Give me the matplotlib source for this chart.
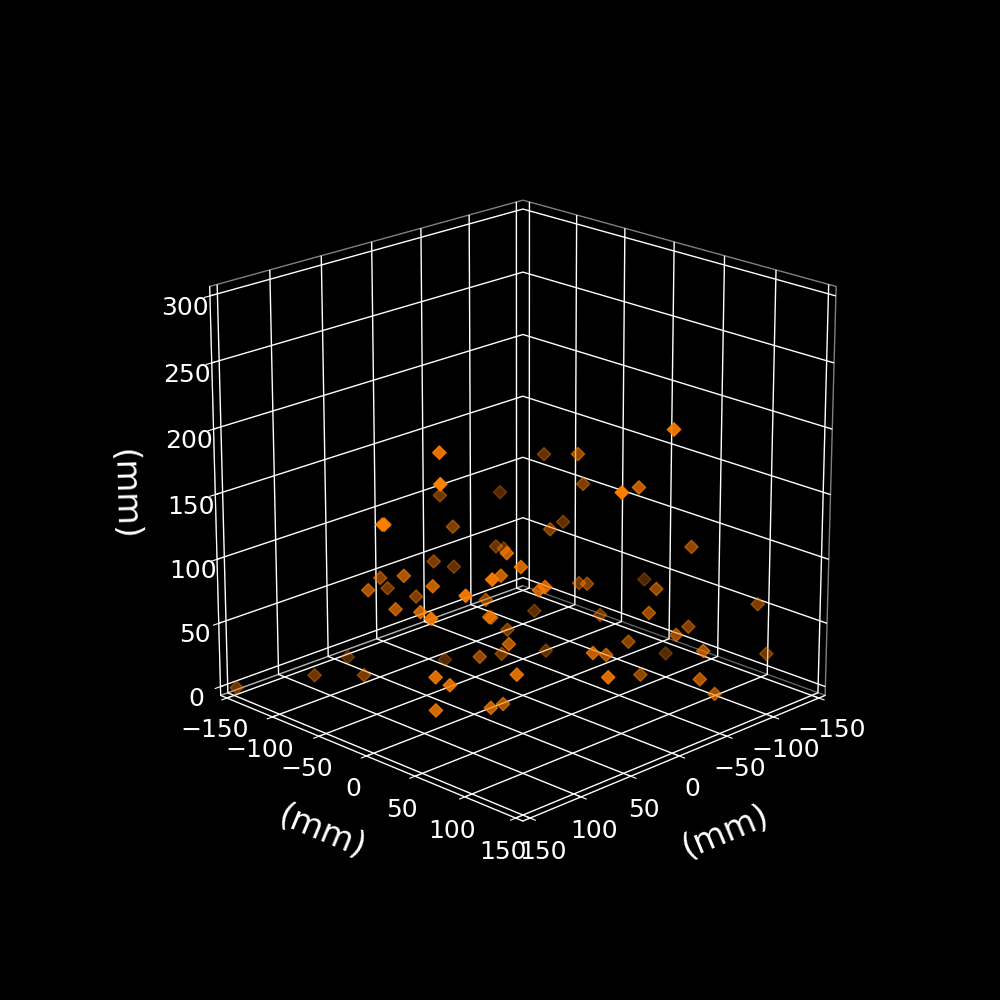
import matplotlib
matplotlib.use('Agg')
import matplotlib.pyplot as plt
import numpy as np

plt.style.use('dark_background')
plt.rcParams['grid.linewidth'] = 1.0

x_vals = [111, 140, 13, 149, 150, 26, 36, 6, -16, -48, 83, 100, 118, 60, 105, 55, 114, 121, 145, 128, 29, 115, 71, 67, 56, -30, 68, 71, 62, 108, 92, 150, 11, 52, 143, 136, 143, 96, 70, 103, 67, 11, 8, -61, -28, -51, 52, -18, -4, -61, -24, -76, -39, -33, -114, -48, 52, 59, -36, -50, -34, -75, -48, -34, -32, 35, 8, -105, -41, -126, -121, 58, -30, -29, -45]
y_vals = [29, 60, -73, 11, 14, -46, -56, -66, -44, -72, -63, -20, -38, -80, 15, -55, -14, 19, 55, 72, -9, 85, 49, 33, 24, -50, 52, 69, -122, -108, -72, -147, -71, 8, 57, 64, 57, 64, 50, 97, 53, -11, -8, -39, 28, 11, 148, 98, 144, -19, 4, 96, 19, 33, 14, 88, 68, 81, -24, 30, 94, 95, 108, 74, -8, 105, 92, 45, 141, 126, 121, 142, 90, 149, 149]
z_vals = [217, 209, 134, 169, 170, 120, 93, 78, 94, 121, 91, 109, 98, 72, 112, 71, 89, 98, 110, 127, 74, 139, 120, 83, 77, 87, 137, 132, 6, 9, 15, 0, 4, 41, 66, 60, 41, 31, 22, 68, 68, 26, 45, 156, 181, 148, 203, 176, 234, 108, 118, 115, 76, 81, 57, 88, 109, 117, 43, 51, 75, 53, 58, 47, 17, 67, 54, 9, 57, 26, 65, 66, 27, 41, 25]
tick_xy = list(range(-150, 151, 50))
tick_z = list(range(0, 301, 50))

fig = plt.figure(figsize=(10, 10), dpi=100)
ax = fig.add_subplot(projection='3d')
ax.set_box_aspect((1, 1, 1), zoom=0.95)
ax.scatter(x_vals, y_vals, z_vals, marker='D', s=46, color='#ff7f00')
ax.set_xlim(-157, 157, view_margin=0)
ax.set_ylim(-157, 157, view_margin=0)
ax.set_zlim(-7, 307, view_margin=0)
ax.view_init(elev=20, azim=45)
for a in (ax.xaxis, ax.yaxis, ax.zaxis):
    a.pane.set_facecolor((0, 0, 0, 1))
    a.pane.set_edgecolor((1, 1, 1, 0.5))
    a.set_rotate_label(True)
ax.set_xticks(tick_xy)
ax.set_yticks(tick_xy)
ax.set_zticks(tick_z)
ax.tick_params(labelsize=18)
ax.set_xlabel('(mm)', fontsize=24, labelpad=20)
ax.set_ylabel('(mm)', fontsize=24, labelpad=20)
ax.set_zlabel('(mm)', fontsize=24, labelpad=22)
fig.savefig('out.png', dpi=100)
